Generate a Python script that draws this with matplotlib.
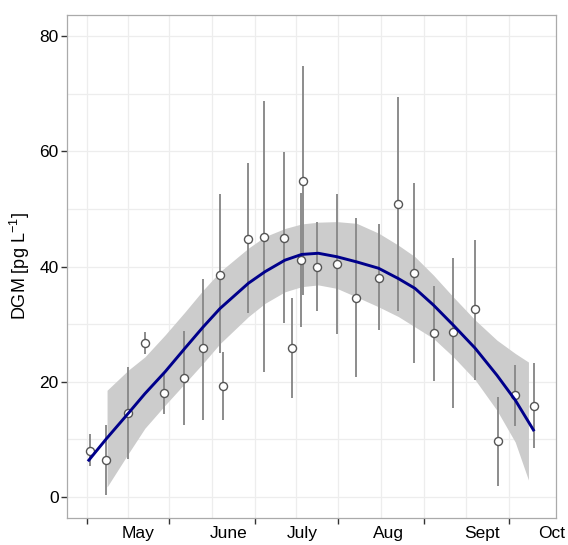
import matplotlib
matplotlib.use('Agg')
import matplotlib.pyplot as plt
import numpy as np

plt.rcParams['font.family'] = ['Liberation Sans', 'DejaVu Sans']
plt.rcParams['mathtext.default'] = 'regular'

# dias desde el 1 de abril
dias = [1.1, 7.1, 15.1, 21.2, 28.1, 35.1, 42.2, 48.3, 49.4, 58.3, 64.3, 71.4, 74.5, 77.5,
        78.4, 83.6, 90.6, 97.6, 105.7, 112.7, 118.7, 125.7, 132.8, 140.8, 148.9, 155.1, 162.0]
dgm = [8.0, 6.3, 14.5, 26.7, 18.1, 20.7, 25.8, 38.5, 19.2, 44.7, 45.2, 45.0, 25.8, 41.1,
       54.9, 39.9, 40.4, 34.6, 38.0, 50.8, 38.8, 28.4, 28.6, 32.6, 9.7, 17.6, 15.7]
dgm_sup = [10.9, 12.4, 22.5, 28.7, 21.5, 28.8, 37.9, 52.6, 25.1, 57.9, 68.8, 59.9, 34.6, 52.8,
           74.9, 47.7, 52.6, 48.4, 47.3, 69.5, 54.5, 36.6, 41.4, 44.6, 17.4, 22.9, 23.2]
dgm_inf = [5.3, 0.3, 6.5, 24.8, 14.3, 12.5, 13.3, 24.9, 13.3, 31.9, 21.7, 30.2, 17.1, 29.5,
           35.0, 32.3, 28.3, 20.8, 29.0, 32.3, 23.3, 20.1, 15.4, 20.3, 1.8, 12.3, 8.5]

# curva suavizada
curva_dias = [0.8, 7.2, 15.1, 21.1, 28.4, 35.6, 42.2, 48.3, 58.6, 64.6, 71.8, 77.9, 83.9,
              90.6, 97.8, 105.7, 112.9, 118.9, 125.6, 132.8, 140.7, 148.6, 155.2, 161.8]
curva = [6.35, 10.1, 14.5, 17.9, 21.7, 25.8, 29.5, 32.7, 37.1, 39.1, 41.1, 42.1, 42.3,
         41.7, 40.8, 39.7, 37.9, 36.2, 33.3, 29.8, 25.8, 21.1, 16.8, 11.6]

# banda de confianza
banda_dias = [7.4, 15.1, 21.1, 28.4, 35.6, 42.2, 48.3, 58.6, 64.6, 71.8, 77.9, 83.9,
              90.6, 97.8, 105.7, 112.9, 118.9, 125.6, 132.8, 140.7, 148.6, 155.2, 160.0]
banda_sup = [18.5, 22.0, 24.3, 28.1, 32.1, 35.9, 39.1, 43.2, 45.2, 46.6, 47.4, 47.7,
             47.8, 47.5, 45.8, 43.7, 41.7, 38.5, 34.7, 30.7, 27.2, 24.9, 23.4]
banda_inf = [1.7, 7.5, 11.9, 15.9, 19.7, 23.2, 26.6, 31.3, 33.6, 35.6, 36.5, 36.8,
             36.2, 34.7, 33.0, 31.3, 29.5, 27.5, 24.3, 20.3, 15.0, 9.5, 2.9]

# inicio de cada mes y posicion de las etiquetas
inicio_mes = [0, 30, 61, 91, 122, 153]
meses = ['May', 'June', 'July', 'Aug', 'Sept', 'Oct']
pos_meses = [18.6, 51.6, 78.0, 109.2, 143.2, 168.3]

fig = plt.figure(figsize=(5.68, 5.45), dpi=100)
ax = fig.add_axes([0.118, 0.0495, 0.861, 0.923])

gris_grid = '#EDEDED'
# lineas verticales de la grilla
for i in range(len(inicio_mes)):
    ax.axvline(inicio_mes[i], color=gris_grid, lw=0.9, zorder=0)
    if i + 1 < len(inicio_mes):
        ax.axvline((inicio_mes[i] + inicio_mes[i + 1]) / 2, color=gris_grid, lw=0.9, zorder=0)

ax.set_yticks([0, 20, 40, 60, 80])
ax.set_yticks([10, 30, 50, 70], minor=True)
ax.grid(axis='y', which='both', color=gris_grid, lw=0.9, zorder=0)
ax.set_axisbelow(True)

ax.fill_between(banda_dias, banda_inf, banda_sup, color='#CCCCCC', lw=0, zorder=1)
ax.vlines(dias, dgm_inf, dgm_sup, color='#8C8C8C', lw=1.4, zorder=2)
ax.plot(dias, dgm, 'o', ms=5.8, mfc='white', mec='#555555', mew=1.0, zorder=3)
ax.plot(curva_dias, curva, color='#00008B', lw=2.1, zorder=4, solid_joinstyle='round')

ax.set_xlim(-7.1, 170.0)
ax.set_ylim(-3.7, 83.7)

ax.set_xticks(inicio_mes)
ax.set_xticklabels([''] * len(inicio_mes))
ax.set_xticks(pos_meses, minor=True)
ax.set_xticklabels(meses, minor=True)
ax.tick_params(axis='x', which='major', length=4.5, width=1.0, color='#333333')
ax.tick_params(axis='x', which='minor', length=0, pad=6, labelsize=12.5)
ax.tick_params(axis='y', which='major', length=4.5, width=1.0, color='#333333',
               labelsize=12.5, pad=1.5)
ax.tick_params(axis='y', which='minor', length=0)

for s in ax.spines.values():
    s.set_color('#AAAAAA')
    s.set_linewidth(0.9)

ax.set_ylabel('DGM [pg L$^{-1}$]', fontsize=13, labelpad=5)

plt.savefig('out.png', dpi=100)
